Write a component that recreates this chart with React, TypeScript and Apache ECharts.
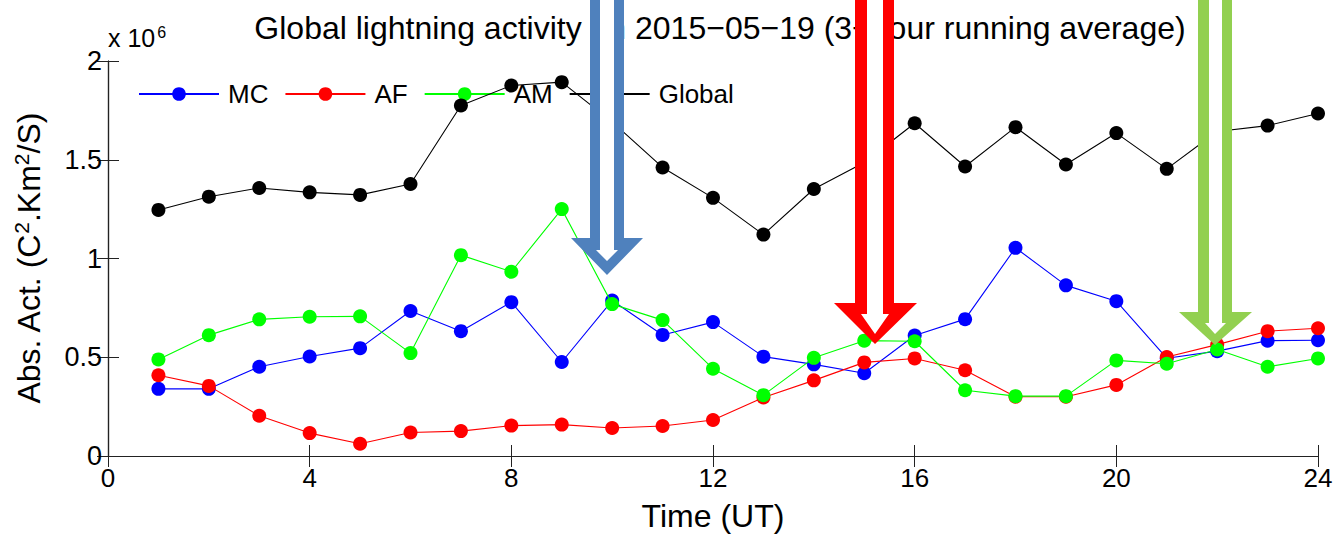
import React, { useEffect, useRef } from "react";
import * as echarts from "echarts";

const hours = [1, 2, 3, 4, 5, 6, 7, 8, 9, 10, 11, 12, 13, 14, 15, 16, 17, 18, 19, 20, 21, 22, 23, 24];
const seriesNames = ["MC", "AF", "AM", "Global"];
const mc = [0.34, 0.34, 0.452, 0.504, 0.546, 0.734, 0.632, 0.779, 0.476, 0.787, 0.613, 0.678, 0.503, 0.464, 0.419, 0.61, 0.693, 1.054, 0.864, 0.784, 0.495, 0.531, 0.584, 0.586];
const af = [0.409, 0.355, 0.204, 0.116, 0.062, 0.119, 0.126, 0.154, 0.159, 0.142, 0.152, 0.182, 0.296, 0.383, 0.474, 0.494, 0.434, 0.3, 0.3, 0.36, 0.501, 0.564, 0.632, 0.647];
const am = [0.489, 0.612, 0.692, 0.705, 0.707, 0.521, 1.017, 0.933, 1.25, 0.769, 0.688, 0.442, 0.308, 0.497, 0.584, 0.581, 0.333, 0.303, 0.303, 0.484, 0.467, 0.539, 0.452, 0.494];
const globalAct = [1.246, 1.313, 1.357, 1.335, 1.322, 1.377, 1.775, 1.876, 1.893, 1.692, 1.461, 1.307, 1.121, 1.352, 1.486, 1.685, 1.466, 1.665, 1.476, 1.635, 1.454, 1.643, 1.673, 1.734];
const colors = ["#0000ff", "#ff0000", "#00ff00", "#000000"];
const xTicks = { min: 0, max: 24, interval: 4 };
const yTicks = { min: 0, max: 2, interval: 0.5 };

const FONT = "Liberation Sans, Arial, sans-serif";

export default function App() {
  const ref = useRef<HTMLDivElement>(null);
  useEffect(() => {
    if (!ref.current) return;
    const chart = echarts.init(ref.current, null, { renderer: "svg" });
    const all = [mc, af, am, globalAct];
    const axisLine = { show: true, lineStyle: { color: "#222", width: 1.2 } };
    const tick = { show: true, inside: true, length: 11, lineStyle: { color: "#222", width: 1 } };
    const arrow = (outer: number[][], inner: number[][], color: string) => [
      { type: "polygon", z: 100, shape: { points: outer }, style: { fill: color } },
      { type: "polygon", z: 101, shape: { points: inner }, style: { fill: "#ffffff" } },
    ];
    chart.setOption({
      animation: false,
      backgroundColor: "#ffffff",
      textStyle: { fontFamily: FONT },
      title: {
        text: "Global lightning activity on 2015\u221205\u221219 (3\u2212hour running average)",
        left: 715,
        textAlign: "center",
        top: 7,
        textStyle: { fontFamily: FONT, fontSize: 32, fontWeight: "normal", color: "#000" },
      },
      legend: {
        left: 138,
        top: 81,
        padding: 0,
        itemWidth: 80,
        itemHeight: 17,
        itemGap: 16,
        data: seriesNames,
        textStyle: { fontFamily: FONT, fontSize: 26, color: "#000", padding: [0, 0, 0, 4] },
      },
      grid: { left: 108, top: 61, right: 20, bottom: 78, show: false },
      xAxis: [
        {
          type: "value", position: "bottom", ...xTicks,
          name: "Time (UT)", nameLocation: "middle", nameGap: 44,
          nameTextStyle: { fontFamily: FONT, fontSize: 32, color: "#000" },
          axisLine, axisTick: tick, splitLine: { show: false },
          axisLabel: { fontFamily: FONT, fontSize: 26, color: "#000", margin: 9 },
        },
        {
          type: "value", position: "top", ...xTicks,
          axisLine, axisTick: tick, splitLine: { show: false }, axisLabel: { show: false },
        },
      ],
      yAxis: [
        {
          type: "value", position: "left", ...yTicks,
          name: "{a|Abs. Act. (C}{s|2}{a|.Km}{s|2}{a|/S)}",
          nameLocation: "middle", nameGap: 62, nameRotate: 90,
          nameTextStyle: {
            rich: {
              a: { fontFamily: FONT, fontSize: 32, color: "#000" },
              s: { fontFamily: FONT, fontSize: 21, color: "#000", verticalAlign: "top", padding: [0, 0, 14, 0] },
            },
          },
          axisLine, axisTick: tick, splitLine: { show: false },
          axisLabel: { fontFamily: FONT, fontSize: 27, color: "#000", margin: 6 },
        },
        {
          type: "value", position: "right", ...yTicks,
          axisLine, axisTick: tick, splitLine: { show: false }, axisLabel: { show: false },
        },
      ],
      series: seriesNames.map((n, i) => ({
        name: n,
        type: "line",
        xAxisIndex: 0,
        yAxisIndex: 0,
        data: hours.map((h, k) => [h, all[i][k]]),
        symbol: "circle",
        symbolSize: 14,
        color: colors[i],
        lineStyle: { color: colors[i], width: 1.1 },
        itemStyle: { color: colors[i] },
        z: 2 + i,
      })),
      graphic: [
        {
          type: "text", left: 108, top: 24, z: 50,
          style: {
            text: "{a|x 10}{s|6}",
            rich: {
              a: { fontFamily: FONT, fontSize: 25, fill: "#000" },
              s: { fontFamily: FONT, fontSize: 16, fill: "#000", verticalAlign: "top", padding: [0, 0, 12, 2] },
            },
          },
        },
        ...arrow(
          [[590, -5], [624, -5], [624, 238], [643, 238], [607, 275], [571, 238], [590, 238]],
          [[600, -5], [614, -5], [614, 250], [618, 250], [607, 261], [596, 250], [600, 250]],
          "#4f81bd"
        ),
        ...arrow(
          [[855, -5], [894, -5], [894, 303], [917, 303], [875, 344], [834, 303], [855, 303]],
          [[867, -5], [883, -5], [883, 314], [889, 314], [875, 334], [861, 314], [867, 314]],
          "#ff0000"
        ),
        ...arrow(
          [[1198, -5], [1232, -5], [1232, 312], [1252, 312], [1215, 345], [1179, 312], [1198, 312]],
          [[1209, -5], [1222, -5], [1222, 323], [1226, 323], [1215, 334], [1205, 323], [1209, 323]],
          "#92d050"
        ),
      ],
    });
    return () => chart.dispose();
  }, []);
  return <div ref={ref} style={{ width: 1338, height: 537, position: "absolute", left: 0, top: 0 }} />;
}
